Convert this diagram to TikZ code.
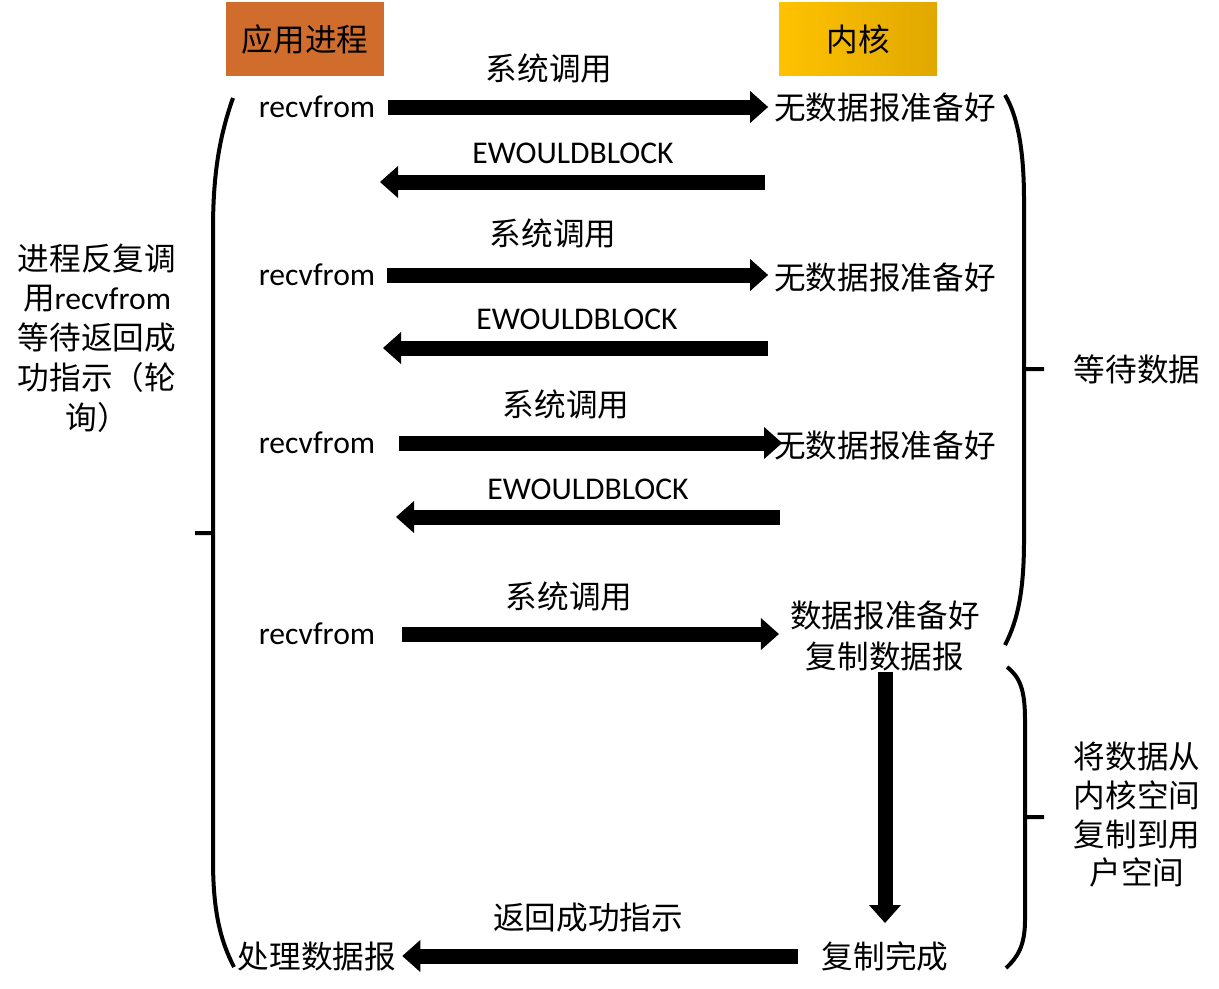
\documentclass[tikz,border=0pt]{standalone}
\usepackage{fontspec}
\setmainfont{Carlito}
\newfontfamily\cjk{Noto Sans CJK SC}
\usetikzlibrary{arrows.meta}
\definecolor{apporange}{RGB}{208,108,44}
\definecolor{kerngold}{RGB}{255,194,0}
\definecolor{kerndark}{RGB}{224,168,0}
\tikzset{
  blockarrow/.style={line width=0.3cm,
    -{Triangle[length=0.36cm 0,width=0.64cm 0,line width=0pt]}},
  header/.style={minimum width=3.16cm,minimum height=1.48cm,inner sep=0pt},
  brace/.style={line width=0.08cm},
  multi/.style={align=center,font=\fontsize{18}{#1}\selectfont}
}
\begin{document}
\begin{tikzpicture}[x=0.02cm,y=-0.02cm,font=\fontsize{18}{22}\selectfont]
\useasboundingbox (0,0) rectangle (1219,988);
\path
(305,39) node[header,fill=apporange](1){\cjk 应用进程}
(858,39) node[header,left color=kerngold,right color=kerndark](2){\cjk 内核};
\path
(317,107) node(3){recvfrom}
(885,107) node(4){\cjk 无数据报准备好}
(317,275) node(5){recvfrom}
(885,277) node(6){\cjk 无数据报准备好}
(317,443) node(7){recvfrom}
(885,445) node(8){\cjk 无数据报准备好}
(317,634) node(9){recvfrom}
(885,636) node[multi=23.8pt](10){\cjk 数据报准备好\\\cjk 复制数据报}
(885,956) node(11){\cjk 复制完成}
(317,956) node(12){\cjk 处理数据报};
\path
(549,68) node(13){\cjk 系统调用}
(553,233) node(14){\cjk 系统调用}
(566,404) node(15){\cjk 系统调用}
(569,596) node(16){\cjk 系统调用}
(573,153) node(17){EWOULDBLOCK}
(577,319) node(18){EWOULDBLOCK}
(588,489) node(19){EWOULDBLOCK}
(588,918) node(20){\cjk 返回成功指示}
(1137,369) node(21){\cjk 等待数据}
(1137,815) node[multi=22pt](22){\cjk 将数据从\\\cjk 内核空间\\\cjk 复制到用\\\cjk 户空间}
(97,338) node[multi=22.7pt](23){\cjk 进程反复调\\{\cjk 用}recvfrom\\\cjk 等待返回成\\\cjk 功指示（轮\\\cjk 询）};
% system calls
\path[draw,blockarrow,shorten <=0.14cm] (3.east) -- (3.east -| 4.west);
\path[draw,blockarrow,shorten <=0.12cm] (5.east) -- (5.east -| 6.west);
\path[draw,blockarrow,shorten <=0.36cm,shorten >=-0.28cm] (7.east) -- (7.east -| 8.west);
\path[draw,blockarrow,shorten <=0.42cm,shorten >=0.1cm] (9.east) -- (9.east -| 10.west);
% EWOULDBLOCK replies
\coordinate (b1) at (765,182);
\coordinate (b2) at (380,182);
\coordinate (b3) at (768,348);
\coordinate (b4) at (383,348);
\coordinate (b5) at (780,517);
\coordinate (b6) at (396,517);
\path[draw,blockarrow] (b1) -- (b2);
\path[draw,blockarrow] (b3) -- (b4);
\path[draw,blockarrow] (b5) -- (b6);
% copy and return
\path[draw,blockarrow,shorten <=-0.12cm,shorten >=0.24cm] (10.south) -- (10.south |- 11.north);
\path[draw,blockarrow,shorten <=0.36cm] (11.west) -- (11.west -| 12.east);
% braces
\path[draw,brace] (233,98) .. controls (218,140) and (213,180) .. (213,230)
  -- (213,860) .. controls (213,910) and (220,940) .. (234,967)
  (195,533) -- (213,533);
\path[draw,brace] (1005,95) .. controls (1020,120) and (1024,160) .. (1024,200)
  -- (1024,540) .. controls (1024,590) and (1018,620) .. (1005,645)
  (1024,369) -- (1044,369);
\path[draw,brace] (1007,667) .. controls (1020,677) and (1025,690) .. (1025,720)
  -- (1025,920) .. controls (1025,945) and (1018,957) .. (1006,968)
  (1025,817) -- (1044,817);
\end{tikzpicture}
\end{document}
